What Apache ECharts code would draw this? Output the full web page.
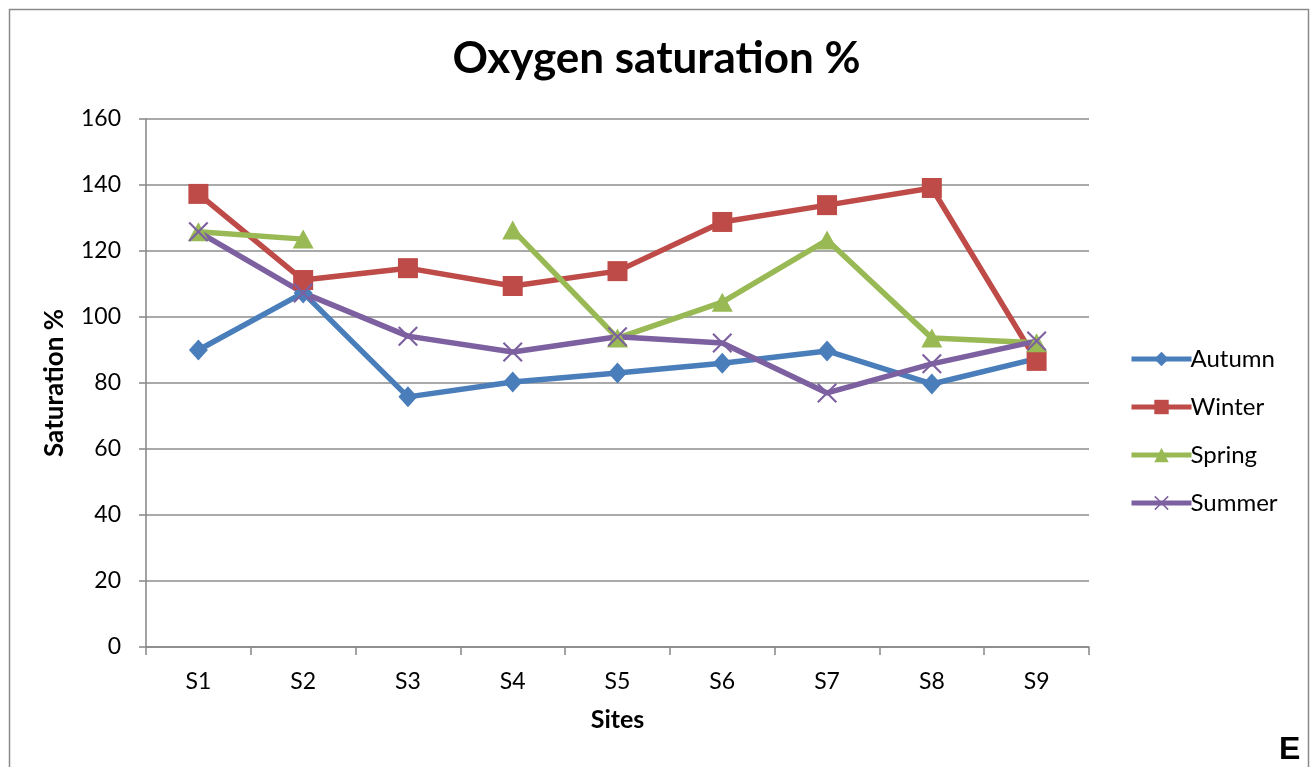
<!DOCTYPE html>
<html>
<head>
<meta charset="utf-8">
<script src="https://cdn.jsdelivr.net/npm/echarts@6/dist/echarts.min.js"></script>
<style>
html,body{margin:0;padding:0;background:#fff;}
#main{width:1313px;height:767px;}
</style>
</head>
<body>
<div id="main"></div>
<script>
const categories = ['S1','S2','S3','S4','S5','S6','S7','S8','S9'];
const autumn = [90.0, 107.3, 75.8, 80.3, 83.0, 86.0, 89.7, 79.7, 87.4];
const winter = [137.3, 111.2, 114.8, 109.4, 113.9, 128.8, 133.9, 139.1, 86.7];
const spring = [125.8, 123.6, null, 126.4, 93.6, 104.5, 123.3, 93.6, 92.2];
const summer = [125.8, 107.3, 94.2, 89.4, 94.0, 92.1, 77.0, 85.8, 92.7];
const yTicks = [0, 20, 40, 60, 80, 100, 120, 140, 160];

const FONT = 'Lato, "Open Sans", sans-serif';
const xPath = 'path://M0,1.5L1.5,0L10,8.5L18.5,0L20,1.5L11.5,10L20,18.5L18.5,20L10,11.5L1.5,20L0,18.5L8.5,10Z';

function mk(name, data, color, symbol, size) {
  return {
    name: name, type: 'line', data: data,
    symbol: symbol, symbolSize: size,
    connectNulls: false,
    lineStyle: { color: color, width: 5.5 },
    itemStyle: { color: color },
    emphasis: { disabled: true },
    z: 3
  };
}

const chart = echarts.init(document.getElementById('main'));
chart.setOption({
  animation: false,
  backgroundColor: '#fff',
  title: {
    text: 'Oxygen saturation %',
    left: 'center', top: 32,
    textStyle: { fontFamily: FONT, fontSize: 44, fontWeight: 'bold', color: '#000' }
  },
  graphic: [
    { type: 'rect', left: 7, top: 7, shape: { width: 1299, height: 800 },
      style: { fill: 'none', stroke: '#8a8a8a', lineWidth: 1.5 }, silent: true },
    { type: 'text', left: 1279, top: 734,
      style: { text: 'E', font: 'bold 32px "Liberation Sans", Arial, sans-serif', fill: '#000' } }
  ],
  legend: {
    orient: 'vertical', left: 1124, top: 342,
    itemWidth: 60, itemHeight: 18, itemGap: 24,
    lineStyle: { width: 5 },
    textStyle: { fontFamily: FONT, fontSize: 24, color: '#000', padding: [0,0,0,-6] },
    data: ['Autumn','Winter','Spring','Summer']
  },
  grid: { left: 146, right: 224, top: 119, bottom: 120, containLabel: false },
  xAxis: {
    type: 'category', data: categories, boundaryGap: true,
    name: 'Sites', nameLocation: 'middle', nameGap: 60,
    nameTextStyle: { fontFamily: FONT, fontSize: 25, fontWeight: 'bold', color: '#000' },
    axisLine: { lineStyle: { color: '#868686', width: 1.5 } },
    axisTick: { show: true, length: 8, alignWithLabel: false, lineStyle: { color: '#868686', width: 1.5 } },
    axisLabel: { fontFamily: FONT, fontSize: 23, color: '#000', margin: 23 },
    splitLine: { show: false }
  },
  yAxis: {
    type: 'value', min: 0, max: 160, interval: 20,
    name: 'Saturation %', nameLocation: 'middle', nameGap: 78, nameRotate: 90,
    nameTextStyle: { fontFamily: FONT, fontSize: 26, fontWeight: 'bold', color: '#000' },
    axisLine: { show: true, lineStyle: { color: '#868686', width: 1.5 } },
    axisTick: { show: true, length: 7, lineStyle: { color: '#868686', width: 1.5 } },
    axisLabel: { fontFamily: FONT, fontSize: 23, color: '#000', margin: 25,
      formatter: function (v) { return yTicks.indexOf(v) >= 0 ? String(v) : ''; } },
    splitLine: { show: true, lineStyle: { color: '#8c8c8c', width: 1.5 } }
  },
  series: [
    mk('Autumn', autumn, '#4A7EBB', 'diamond', [19, 21]),
    mk('Winter', winter, '#BE4B48', 'rect', 20),
    mk('Spring', spring, '#98B954', 'triangle', [21, 19]),
    mk('Summer', summer, '#7D60A0', xPath, 20)
  ]
});
</script>
</body>
</html>
